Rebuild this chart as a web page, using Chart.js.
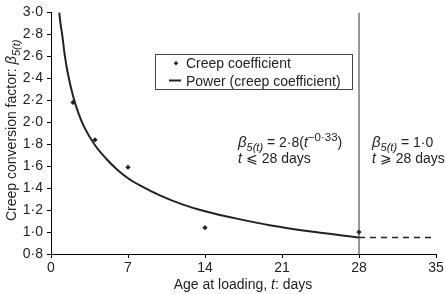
<!DOCTYPE html>
<html>
<head>
<meta charset="utf-8">
<script src="https://cdn.jsdelivr.net/npm/chart.js@4.4.0/dist/chart.umd.min.js"></script>
<style>
  html, body { margin: 0; padding: 0; background: #fff; }
  #wrap { width: 446px; height: 294px; }
</style>
</head>
<body>
<div id="wrap"><canvas id="creep"></canvas></div>
<script>
// measured creep coefficient points
var ageDays = [2, 4, 7, 14, 28];
var creepCoef = [2.18, 1.84, 1.59, 1.04, 1.0];

// power fit curve
var fitAge = [0.75, 0.9, 1, 1.25, 1.5, 2, 2.5, 3, 4, 5, 6, 7, 8, 10, 12, 14, 17, 20, 24, 28];
var fitVal = [3.0, 2.87, 2.81, 2.61, 2.46, 2.24, 2.08, 1.96, 1.79, 1.67, 1.57, 1.49, 1.43, 1.33, 1.25, 1.19, 1.12, 1.06, 1.0, 0.95];

// constant part after 28 days
var flatAge = [28, 35];
var flatVal = [0.95, 0.95];

// divider at 28 days
var dividerAge = [28, 28];
var dividerVal = [0.8, 3.0];

var FONT = "'Liberation Sans', Arial, sans-serif";
var INK = '#222';

function pts(xs, ys) {
  return xs.map(function (x, i) { return { x: x, y: ys[i] }; });
}

// draw a line of mixed runs (italic / sub / sup)
function runs(ctx, x, y, list) {
  list.forEach(function (r) {
    ctx.font = (r.it ? 'italic ' : '') + (r.sz || 14) + 'px ' + FONT;
    ctx.fillText(r.t, x, y + (r.dy || 0));
    x += ctx.measureText(r.t).width;
  });
  return x;
}

var extras = {
  id: 'extras',
  afterDraw: function (chart) {
    var ctx = chart.ctx;
    ctx.save();
    ctx.fillStyle = INK;
    ctx.textBaseline = 'alphabetic';
    ctx.textAlign = 'left';

    // legend box
    ctx.strokeStyle = '#444';
    ctx.lineWidth = 1;
    ctx.strokeRect(155.5, 54.5, 197, 35);
    ctx.beginPath();
    ctx.moveTo(176, 61); ctx.lineTo(178.2, 63.3); ctx.lineTo(176, 65.6); ctx.lineTo(173.8, 63.3);
    ctx.closePath(); ctx.fill();
    ctx.strokeStyle = INK;
    ctx.lineWidth = 2;
    ctx.beginPath(); ctx.moveTo(169, 80.5); ctx.lineTo(181, 80.5); ctx.stroke();
    runs(ctx, 186, 68, [{ t: 'Creep coefficient' }]);
    runs(ctx, 186, 85.5, [{ t: 'Power (creep coefficient)' }]);

    // formula notes
    runs(ctx, 238, 147, [
      { t: '\u03b2', it: 1, sz: 15 }, { t: '5(t)', it: 1, sz: 11, dy: 4 },
      { t: ' = 2\u00b78(' }, { t: 't', it: 1 }, { t: '\u22120\u00b733', sz: 11.5, dy: -6 }, { t: ')' }
    ]);
    runs(ctx, 238, 163, [{ t: 't', it: 1 }, { t: ' \u2a7d 28 days' }]);
    runs(ctx, 372, 147, [
      { t: '\u03b2', it: 1, sz: 15 }, { t: '5(t)', it: 1, sz: 11, dy: 4 }, { t: ' = 1\u00b70' }
    ]);
    runs(ctx, 372, 163, [{ t: 't', it: 1 }, { t: ' \u2a7e 28 days' }]);

    // x title
    var xt = [{ t: 'Age at loading, ' }, { t: 't', it: 1 }, { t: ': days' }];
    var w = 0;
    xt.forEach(function (r) { ctx.font = (r.it ? 'italic ' : '') + '14px ' + FONT; w += ctx.measureText(r.t).width; });
    runs(ctx, 243 - w / 2, 289, xt);

    // y title
    ctx.translate(16, 221);
    ctx.rotate(-Math.PI / 2);
    runs(ctx, 0, 0, [
      { t: 'Creep conversion factor: ' }, { t: '\u03b2', it: 1, sz: 15 }, { t: '5(t)', it: 1, sz: 11, dy: 4 }
    ]);
    ctx.restore();
  }
};

new Chart(document.getElementById('creep'), {
  type: 'scatter',
  data: {
    datasets: [{
      label: 'divider',
      data: pts(dividerAge, dividerVal),
      showLine: true,
      borderColor: '#333',
      borderWidth: 1,
      pointRadius: 0
    }, {
      label: 'Creep coefficient',
      data: pts(ageDays, creepCoef),
      pointStyle: 'rectRot',
      pointRadius: 2.6,
      backgroundColor: INK,
      borderColor: INK,
      borderWidth: 0
    }, {
      label: 'Power (creep coefficient)',
      data: pts(fitAge, fitVal),
      showLine: true,
      cubicInterpolationMode: 'monotone',
      borderColor: INK,
      borderWidth: 2,
      pointRadius: 0
    }, {
      label: 'flat',
      data: pts(flatAge, flatVal),
      showLine: true,
      borderColor: INK,
      borderWidth: 1.5,
      borderDash: [6, 5],
      pointRadius: 0
    }]
  },
  options: {
    responsive: true,
    maintainAspectRatio: false,
    animation: false,
    layout: { padding: { left: 0, right: 10, top: 10, bottom: 0 } },
    plugins: { legend: { display: false }, tooltip: { enabled: false } },
    scales: {
      x: {
        type: 'linear', min: 0, max: 35,
        ticks: { stepSize: 7, color: INK, font: { family: FONT, size: 14 }, padding: 2, maxRotation: 0 },
        grid: { drawOnChartArea: false, drawTicks: true, tickLength: 4, color: '#000' },
        border: { color: '#000', width: 1 },
        afterFit: function (s) { s.height = 40; }
      },
      y: {
        min: 0.8, max: 3.0,
        ticks: {
          stepSize: 0.2, color: INK, font: { family: FONT, size: 14 }, padding: 4,
          callback: function (v) { return v.toFixed(1).replace('.', '\u00b7'); }
        },
        grid: { drawOnChartArea: false, drawTicks: true, tickLength: 4, color: '#000' },
        border: { color: '#000', width: 1 },
        afterFit: function (s) { s.width = 51; }
      }
    }
  },
  plugins: [extras]
});
</script>
</body>
</html>
